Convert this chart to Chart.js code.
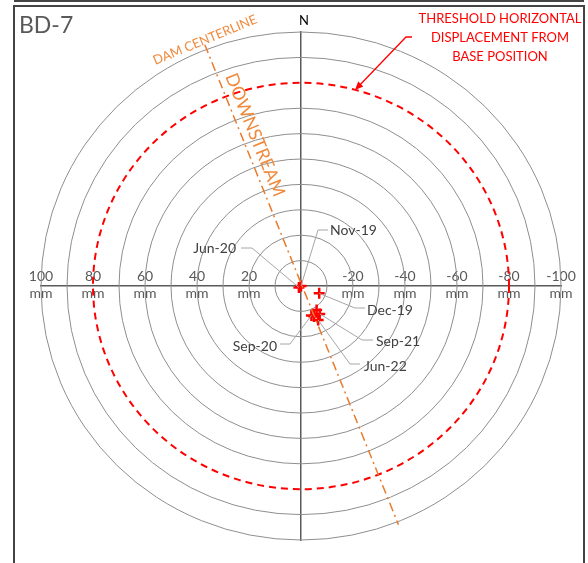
<!DOCTYPE html>
<html>
<head>
<meta charset="utf-8">
<script src="https://cdn.jsdelivr.net/npm/chart.js@4/dist/chart.umd.min.js"></script>
<style>
  html, body { margin: 0; padding: 0; background: #fff; }
  canvas { display: block; }
</style>
</head>
<body>
<canvas id="polar" width="588" height="563"></canvas>
<script>
// ---- data ----
const ringRadii = [10, 20, 30, 40, 50, 60, 70, 80, 90, 100];
const thresholdRadius = 80;
const xTickValues = [100, 80, 60, 40, 20, -20, -40, -60, -80, -100];
const tickUnit = 'mm';

const readingDates = ['Nov-19', 'Dec-19', 'Jun-20', 'Sep-20', '', '', 'Sep-21', 'Jun-22'];
const dispX = [0, -7.0, 0.8, -4.0, -6.0, -5.0, -7.2, -6.6];
const dispY = [0, -2.9, -0.6, -11.6, -9.4, -12.0, -11.0, -13.4];

const centerlineX = [37, -37.5];
const centerlineY = [95, -94];

// label placement for the dated callouts (pixels)
const callouts = {
  'Nov-19': { tx: 330, ty: 230, align: 'left',  line: [[328, 230], [318, 230]] },
  'Jun-20': { tx: 236, ty: 248, align: 'right', line: [[241, 248], [252, 248]] },
  'Dec-19': { tx: 367, ty: 310, align: 'left',  line: [[365, 308], [355, 308]] },
  'Sep-21': { tx: 376, ty: 341, align: 'left',  line: [[373, 340], [362, 340]] },
  'Jun-22': { tx: 364, ty: 366, align: 'left',  line: [[360, 364], [350, 364]] },
  'Sep-20': { tx: 277, ty: 346, align: 'right', line: [[280, 344], [290, 344]] }
};

const FONT = 'Lato, "Liberation Sans", sans-serif';

const ringsPlugin = {
  id: 'rings',
  beforeDatasetsDraw(chart) {
    const { ctx, scales: { x, y } } = chart;
    const cx = x.getPixelForValue(0), cy = y.getPixelForValue(0);
    ctx.save();
    ringRadii.forEach(r => {
      if (r === thresholdRadius) return;
      const rx = Math.abs(x.getPixelForValue(r) - cx);
      const ry = Math.abs(y.getPixelForValue(r) - cy);
      ctx.beginPath();
      ctx.ellipse(cx, cy, rx, ry, 0, 0, Math.PI * 2);
      ctx.strokeStyle = '#8e8e8e';
      ctx.lineWidth = 1;
      ctx.stroke();
    });
    const rx = Math.abs(x.getPixelForValue(thresholdRadius) - cx);
    const ry = Math.abs(y.getPixelForValue(thresholdRadius) - cy);
    ctx.beginPath();
    ctx.ellipse(cx, cy, rx, ry, 0, 0, Math.PI * 2);
    ctx.setLineDash([7, 5]);
    ctx.strokeStyle = '#ff0000';
    ctx.lineWidth = 2;
    ctx.stroke();
    ctx.restore();
  }
};

const notesPlugin = {
  id: 'notes',
  afterDraw(chart) {
    const { ctx, scales: { x, y } } = chart;
    ctx.save();

    // frame
    ctx.strokeStyle = '#444';
    ctx.lineWidth = 2;
    ctx.beginPath();
    ctx.moveTo(14, 1); ctx.lineTo(584, 1);
    ctx.moveTo(14, 570); ctx.lineTo(14, 6); ctx.lineTo(584, 6); ctx.lineTo(584, 570);
    ctx.stroke();

    // callouts
    ctx.font = '14px ' + FONT;
    ctx.textBaseline = 'middle';
    readingDates.forEach((d, i) => {
      const c = callouts[d];
      if (!c) return;
      const px = x.getPixelForValue(dispX[i]);
      const py = y.getPixelForValue(dispY[i]);
      ctx.strokeStyle = '#a6a6a6';
      ctx.lineWidth = 1;
      ctx.beginPath();
      ctx.moveTo(c.line[0][0], c.line[0][1]);
      ctx.lineTo(c.line[1][0], c.line[1][1]);
      ctx.lineTo(px, py);
      ctx.stroke();
      ctx.fillStyle = '#404040';
      ctx.textAlign = c.align;
      ctx.fillText(d, c.tx, c.ty);
    });

    // title and north
    ctx.fillStyle = '#595959';
    ctx.textAlign = 'left';
    ctx.font = '23px ' + FONT;
    ctx.fillText('BD-7', 19, 26);
    ctx.fillStyle = '#000';
    ctx.textAlign = 'center';
    ctx.font = '13px ' + FONT;
    ctx.fillText('N', x.getPixelForValue(0) + 3, 21);

    // threshold note + arrow
    ctx.fillStyle = '#ff0000';
    ctx.font = '13px ' + FONT;
    ctx.fillText('THRESHOLD HORIZONTAL', 500, 19);
    ctx.fillText('DISPLACEMENT FROM', 500, 38);
    ctx.fillText('BASE POSITION', 500, 57);
    ctx.strokeStyle = '#ff0000';
    ctx.lineWidth = 1.3;
    ctx.beginPath();
    ctx.moveTo(412, 37); ctx.lineTo(406, 37); ctx.lineTo(357, 88);
    ctx.stroke();
    const ang = Math.atan2(88 - 37, 357 - 406);
    ctx.beginPath();
    ctx.moveTo(355, 90);
    ctx.lineTo(355 - 9 * Math.cos(ang - 0.4), 90 - 9 * Math.sin(ang - 0.4));
    ctx.lineTo(355 - 9 * Math.cos(ang + 0.4), 90 - 9 * Math.sin(ang + 0.4));
    ctx.closePath();
    ctx.fillStyle = '#ff0000';
    ctx.fill();

    // dam centerline notes
    ctx.fillStyle = '#f08a3c';
    ctx.save();
    ctx.translate(205, 40);
    ctx.rotate(-22.5 * Math.PI / 180);
    ctx.font = '13px ' + FONT;
    ctx.fillText('DAM CENTERLINE', 0, 0);
    ctx.restore();
    ctx.save();
    ctx.translate(255, 135);
    ctx.rotate(68 * Math.PI / 180);
    ctx.font = '18px ' + FONT;
    ctx.fillText('DOWNSTREAM', 0, 0);
    ctx.restore();

    ctx.restore();
  }
};

new Chart(document.getElementById('polar'), {
  type: 'scatter',
  data: {
    datasets: [
      {
        type: 'line',
        data: centerlineX.map((v, i) => ({ x: v, y: centerlineY[i] })),
        borderColor: '#ea7a2c',
        borderWidth: 1.5,
        borderDash: [9, 4, 2, 4],
        pointRadius: 0,
        fill: false
      },
      {
        data: dispX.map((v, i) => ({ x: v, y: dispY[i] })),
        pointStyle: 'cross',
        pointRadius: 5.5,
        borderWidth: 2.5,
        borderColor: '#ff0000',
        backgroundColor: '#ff0000'
      }
    ]
  },
  options: {
    responsive: false,
    animation: false,
    devicePixelRatio: 1,
    layout: { padding: { left: 41, right: 27, top: 32, bottom: 23 } },
    plugins: { legend: { display: false }, tooltip: { enabled: false } },
    scales: {
      x: {
        type: 'linear',
        min: -100, max: 100,
        reverse: true,
        position: { y: 0 },
        afterFit: s => { s.height = 0; },
        afterBuildTicks: s => { s.ticks = xTickValues.map(v => ({ value: v })); },
        grid: { display: false, drawTicks: false },
        border: { display: true, color: '#5a5a5a', width: 1.5 },
        ticks: {
          autoSkip: false,
          maxRotation: 0,
          padding: -17.5,
          color: '#595959',
          font: { family: FONT, size: 14, lineHeight: 1.2 },
          callback: v => [String(v), tickUnit]
        }
      },
      y: {
        type: 'linear',
        min: -100, max: 100,
        position: { x: 0 },
        afterFit: s => { s.width = 0; },
        grid: { display: false, drawTicks: false },
        border: { display: true, color: '#5a5a5a', width: 1.5 },
        ticks: { display: false }
      }
    }
  },
  plugins: [ringsPlugin, notesPlugin]
});
</script>
</body>
</html>
